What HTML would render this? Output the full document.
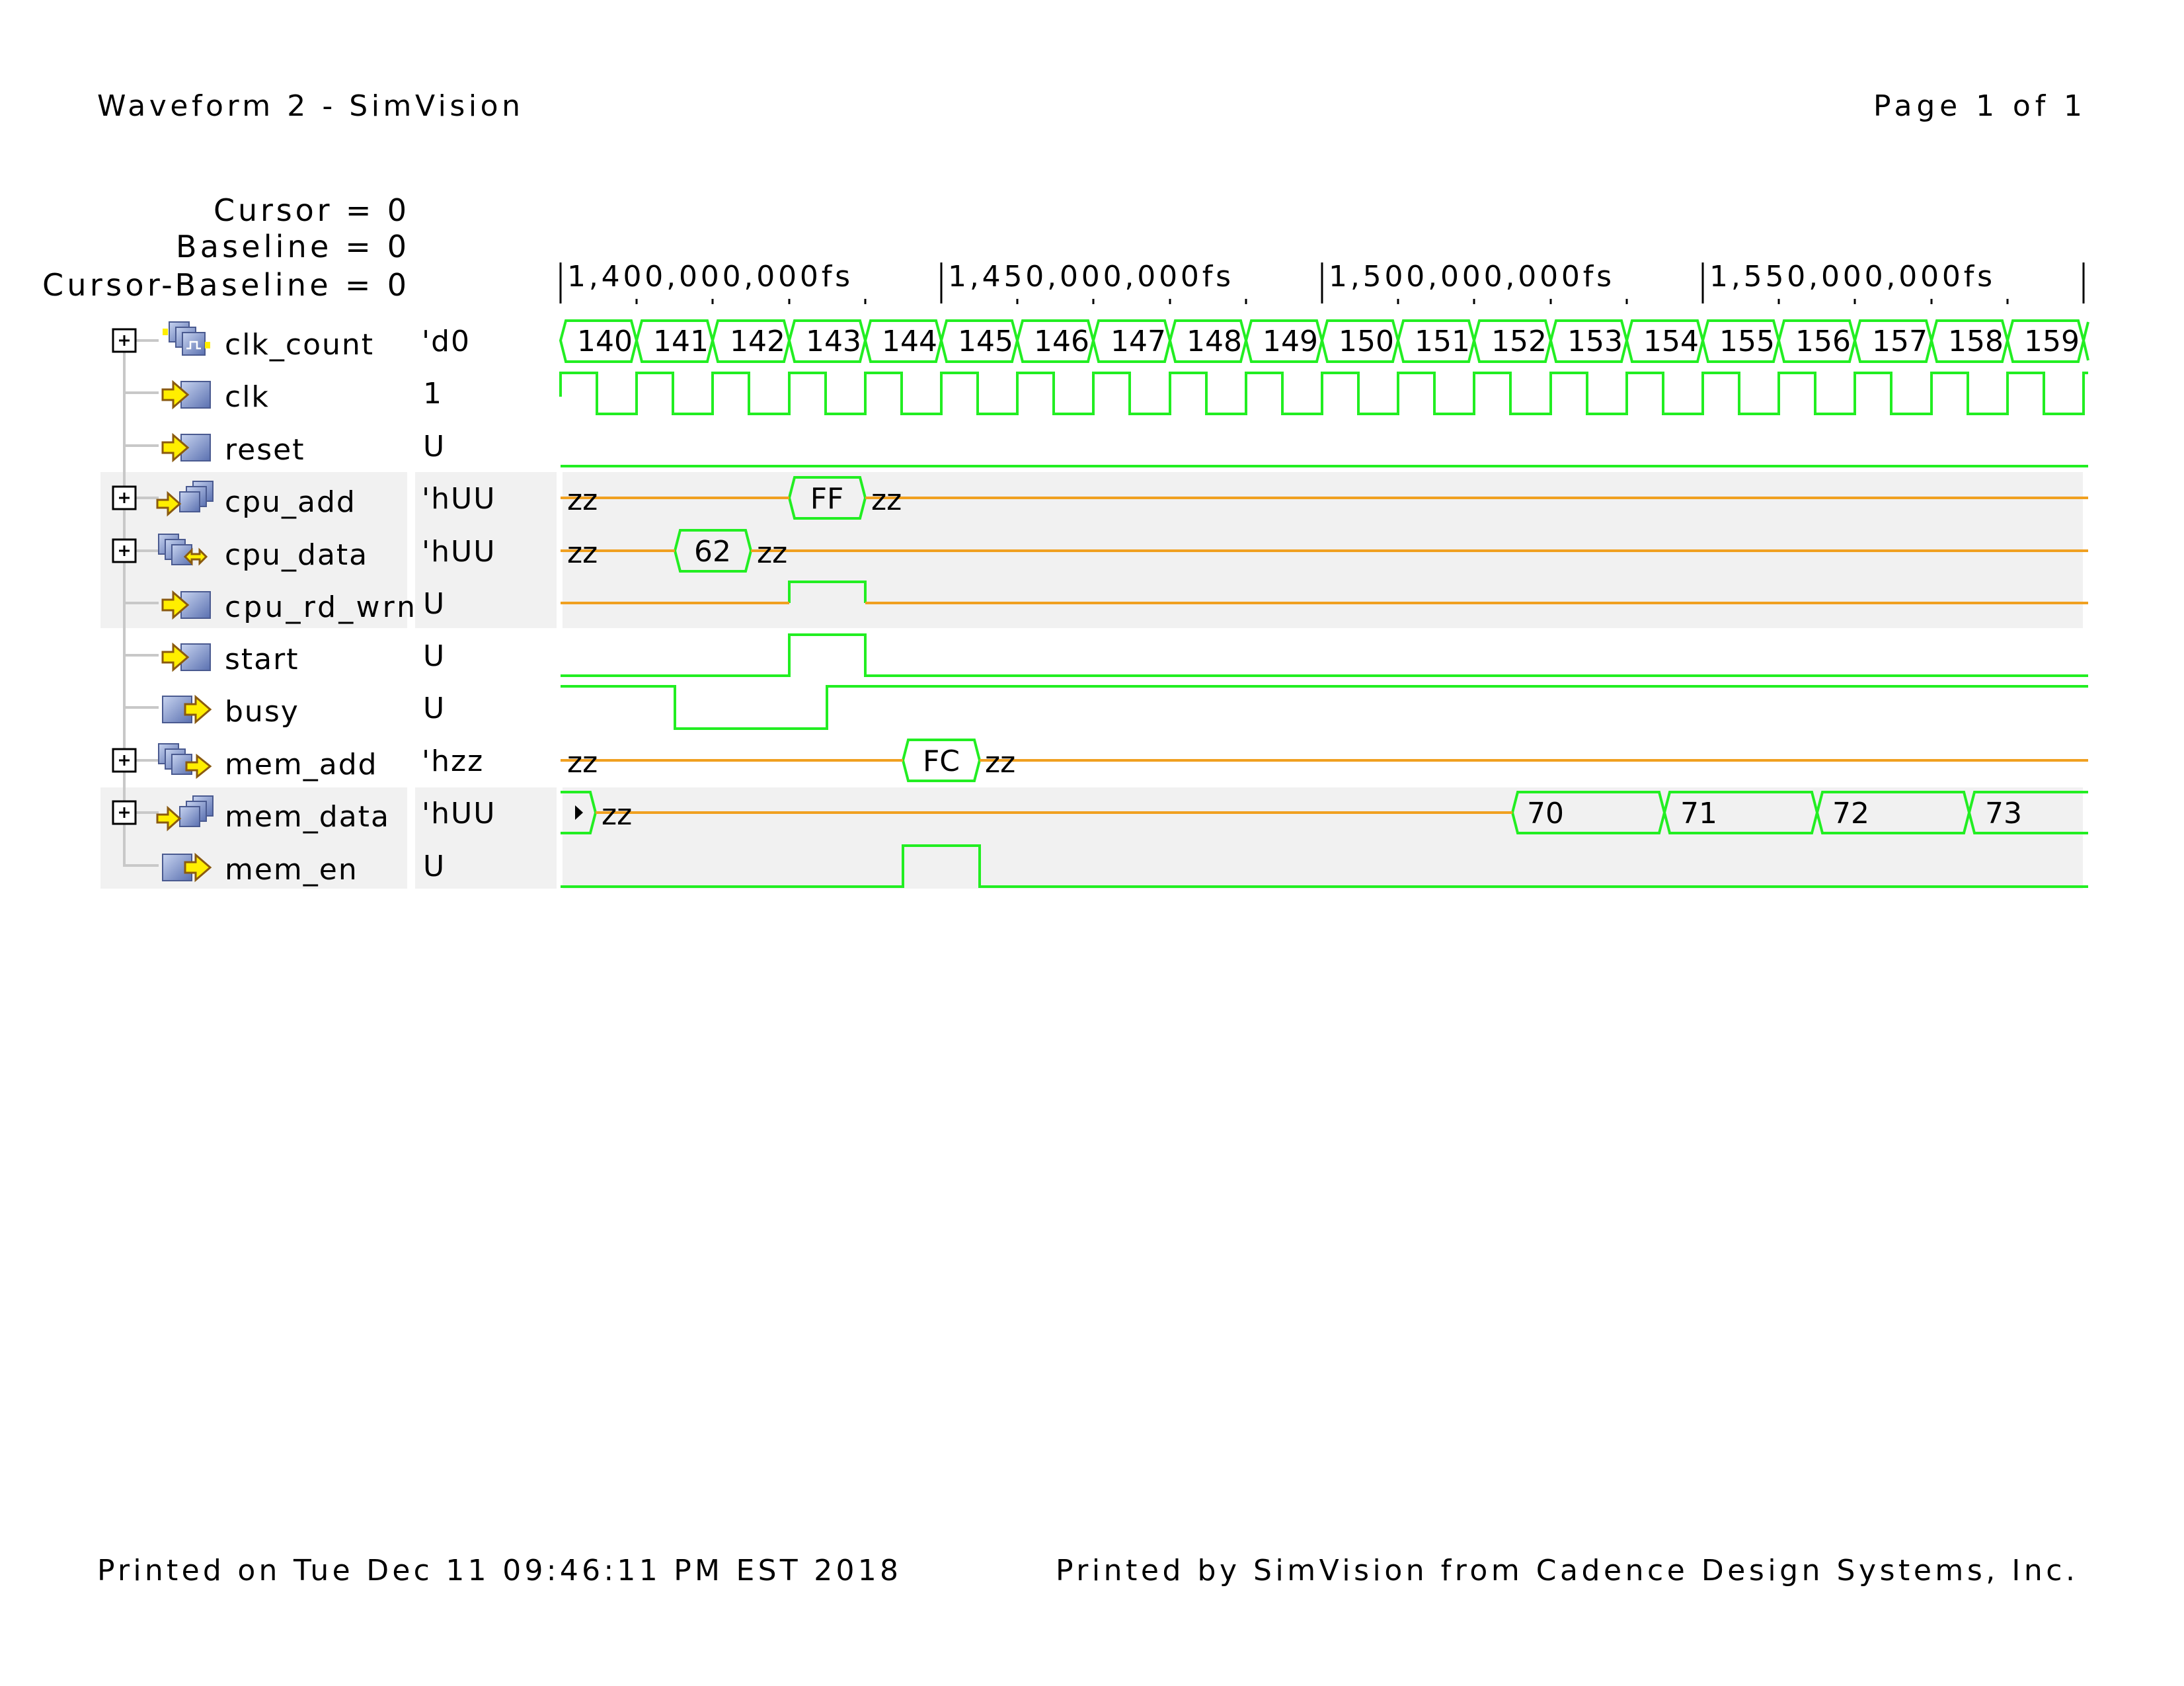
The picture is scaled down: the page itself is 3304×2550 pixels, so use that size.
<!DOCTYPE html>
<html><head><meta charset="utf-8"><style>
html,body{margin:0;padding:0;background:#fff;}
svg{display:block;}
text{font-family:"DejaVu Sans","Liberation Sans",sans-serif;fill:#000;}
</style></head><body>
<svg width="3304" height="2550" viewBox="0 0 3304 2550" xmlns="http://www.w3.org/2000/svg">
<defs>
<linearGradient id="bl" x1="0" y1="0" x2="1" y2="1"><stop offset="0" stop-color="#c8d4f0"/><stop offset="1" stop-color="#5a70b0"/></linearGradient>
<g id="inIcon">
<rect x="274" y="-20" width="44" height="40" fill="url(#bl)" stroke="#4a5a90" stroke-width="2"/>
<polygon points="246,-8 262,-8 262,-19 284,0 262,19 262,8 246,8" fill="#ffee00" stroke="#8a5a10" stroke-width="3"/>
</g>
<g id="outIcon">
<rect x="246" y="-20" width="44" height="40" fill="url(#bl)" stroke="#4a5a90" stroke-width="2"/>
<polygon points="280,-8 296,-8 296,-19 318,0 296,19 296,8 280,8" fill="#ffee00" stroke="#8a5a10" stroke-width="3"/>
</g>
<g id="busIn">
<rect x="292" y="-28" width="30" height="30" fill="url(#bl)" stroke="#4a5a90" stroke-width="2"/>
<rect x="282" y="-20" width="30" height="30" fill="url(#bl)" stroke="#4a5a90" stroke-width="2"/>
<rect x="272" y="-12" width="30" height="30" fill="url(#bl)" stroke="#4a5a90" stroke-width="2"/>
<polygon points="238,0 254,0 254,-10 272,6 254,22 254,12 238,12" fill="#ffee00" stroke="#8a5a10" stroke-width="3"/>
</g>
<g id="busOut">
<rect x="240" y="-28" width="30" height="30" fill="url(#bl)" stroke="#4a5a90" stroke-width="2"/>
<rect x="250" y="-20" width="30" height="30" fill="url(#bl)" stroke="#4a5a90" stroke-width="2"/>
<rect x="260" y="-12" width="30" height="30" fill="url(#bl)" stroke="#4a5a90" stroke-width="2"/>
<polygon points="282,0 298,0 298,-10 318,6 298,22 298,12 282,12" fill="#ffee00" stroke="#8a5a10" stroke-width="3"/>
</g>
<g id="busBi">
<rect x="240" y="-28" width="30" height="30" fill="url(#bl)" stroke="#4a5a90" stroke-width="2"/>
<rect x="250" y="-20" width="30" height="30" fill="url(#bl)" stroke="#4a5a90" stroke-width="2"/>
<rect x="260" y="-12" width="30" height="30" fill="url(#bl)" stroke="#4a5a90" stroke-width="2"/>
<polygon points="280,6 290,-4 290,2 302,2 302,-4 312,6 302,16 302,10 290,10 290,16" fill="#ffee00" stroke="#8a5a10" stroke-width="3"/>
</g>
<g id="busClk">
<rect x="256" y="-28" width="30" height="30" fill="url(#bl)" stroke="#4a5a90" stroke-width="2"/>
<rect x="266" y="-20" width="30" height="30" fill="url(#bl)" stroke="#4a5a90" stroke-width="2"/>
<rect x="276" y="-12" width="34" height="34" fill="url(#bl)" stroke="#4a5a90" stroke-width="2"/>
<path d="M282 12H288V2H298V12H304" stroke="#fff" stroke-width="2.5" fill="none"/>
<rect x="246" y="-18" width="8" height="10" fill="#ffee00"/>
<rect x="310" y="2" width="8" height="10" fill="#ffee00"/>
</g>
<g id="plus">
<rect x="171" y="-17" width="34" height="34" fill="#fff" stroke="#000" stroke-width="3"/>
<path d="M180 0H196M188 -8V8" stroke="#000" stroke-width="3"/>
</g>
</defs>

<!-- header -->
<text x="147" y="175" font-size="44" textLength="640" lengthAdjust="spacing">Waveform 2 - SimVision</text>
<text x="2834" y="175" font-size="44" textLength="316" lengthAdjust="spacing">Page 1 of 1</text>

<text x="323" y="334" font-size="46" textLength="292" lengthAdjust="spacing">Cursor = 0</text>
<text x="266" y="389" font-size="46" textLength="349" lengthAdjust="spacing">Baseline = 0</text>
<text x="64" y="447" font-size="46" textLength="551" lengthAdjust="spacing">Cursor-Baseline = 0</text>

<!-- gray bands -->
<g fill="#f1f1f1">
<rect x="152" y="714" width="464" height="236"/>
<rect x="628" y="714" width="214" height="236"/>
<rect x="851" y="714" width="2300" height="236"/>
<rect x="152" y="1191" width="464" height="153"/>
<rect x="628" y="1191" width="214" height="153"/>
<rect x="851" y="1191" width="2300" height="153"/>
</g>

<!-- time axis -->
<g stroke="#000" stroke-width="3">
<path d="M848 397V459M1424 397V459M2000 397V459M2576 397V459M3152 397V459"/>
<path d="M963 452V460M1078 452V460M1194 452V460M1309 452V460M1539 452V460M1654 452V460M1770 452V460M1885 452V460M2115 452V460M2230 452V460M2346 452V460M2461 452V460M2691 452V460M2806 452V460M2922 452V460M3037 452V460"/>
</g>
<g font-size="44">
<text x="858" y="433" textLength="428" lengthAdjust="spacing">1,400,000,000fs</text>
<text x="1434" y="433" textLength="428" lengthAdjust="spacing">1,450,000,000fs</text>
<text x="2010" y="433" textLength="428" lengthAdjust="spacing">1,500,000,000fs</text>
<text x="2586" y="433" textLength="428" lengthAdjust="spacing">1,550,000,000fs</text>
</g>

<!-- tree -->
<g stroke="#c8c8c8" stroke-width="4" fill="none">
<path d="M188 515V1309H240"/>
<path d="M188 515H240M188 594H240M188 674H240M188 753H240M188 833H240M188 912H240M188 991H240M188 1070H240M188 1150H240M188 1229H240"/>
</g>
<use href="#plus" y="515"/><use href="#plus" y="753"/><use href="#plus" y="833"/><use href="#plus" y="1150"/><use href="#plus" y="1229"/>
<use href="#busClk" y="515"/>
<use href="#inIcon" y="597"/><use href="#inIcon" y="677"/>
<use href="#busIn" y="756"/>
<use href="#busBi" y="836"/>
<use href="#inIcon" y="915"/><use href="#inIcon" y="994"/>
<use href="#outIcon" y="1073"/>
<use href="#busOut" y="1153"/>
<use href="#busIn" y="1232"/>
<use href="#outIcon" y="1312"/>

<g font-size="44" letter-spacing="2">
<text x="340" y="536">clk_count</text>
<text x="340" y="615">clk</text>
<text x="340" y="695">reset</text>
<text x="340" y="774">cpu_add</text>
<text x="340" y="854">cpu_data</text>
<text x="340" y="933" textLength="290" lengthAdjust="spacing">cpu_rd_wrn</text>
<text x="340" y="1012">start</text>
<text x="340" y="1091">busy</text>
<text x="340" y="1171">mem_add</text>
<text x="340" y="1250">mem_data</text>
<text x="340" y="1330">mem_en</text>
</g>
<g font-size="44" letter-spacing="2">
<text x="638" y="531">'d0</text>
<text x="640" y="610">1</text>
<text x="640" y="690">U</text>
<text x="638" y="769">'hUU</text>
<text x="638" y="849">'hUU</text>
<text x="640" y="928">U</text>
<text x="640" y="1007">U</text>
<text x="640" y="1086">U</text>
<text x="638" y="1166">'hzz</text>
<text x="638" y="1245">'hUU</text>
<text x="640" y="1325">U</text>
</g>

<!-- clk_count bus -->
<g fill="none" stroke="#22ee22" stroke-width="4">
<path d="M848 515L856 485H955L963 515L955 547H856Z"/>
<path d="M963 515L971 485H1070L1078 515L1070 547H971Z"/>
<path d="M1078 515L1086 485H1186L1194 515L1186 547H1086Z"/>
<path d="M1194 515L1202 485H1301L1309 515L1301 547H1202Z"/>
<path d="M1309 515L1317 485H1416L1424 515L1416 547H1317Z"/>
<path d="M1424 515L1432 485H1531L1539 515L1531 547H1432Z"/>
<path d="M1539 515L1547 485H1646L1654 515L1646 547H1547Z"/>
<path d="M1654 515L1662 485H1762L1770 515L1762 547H1662Z"/>
<path d="M1770 515L1778 485H1877L1885 515L1877 547H1778Z"/>
<path d="M1885 515L1893 485H1992L2000 515L1992 547H1893Z"/>
<path d="M2000 515L2008 485H2107L2115 515L2107 547H2008Z"/>
<path d="M2115 515L2123 485H2222L2230 515L2222 547H2123Z"/>
<path d="M2230 515L2238 485H2338L2346 515L2338 547H2238Z"/>
<path d="M2346 515L2354 485H2453L2461 515L2453 547H2354Z"/>
<path d="M2461 515L2469 485H2568L2576 515L2568 547H2469Z"/>
<path d="M2576 515L2584 485H2683L2691 515L2683 547H2584Z"/>
<path d="M2691 515L2699 485H2798L2806 515L2798 547H2699Z"/>
<path d="M2806 515L2814 485H2914L2922 515L2914 547H2814Z"/>
<path d="M2922 515L2930 485H3029L3037 515L3029 547H2930Z"/>
<path d="M3037 515L3045 485H3144L3152 515L3144 547H3045Z"/>
<path d="M3159 487L3152 515L3159 545"/>
</g>
<g font-size="44" text-anchor="middle">
<text x="915" y="531">140</text><text x="1030" y="531">141</text><text x="1146" y="531">142</text><text x="1261" y="531">143</text><text x="1376" y="531">144</text>
<text x="1491" y="531">145</text><text x="1606" y="531">146</text><text x="1722" y="531">147</text><text x="1837" y="531">148</text><text x="1952" y="531">149</text>
<text x="2067" y="531">150</text><text x="2182" y="531">151</text><text x="2298" y="531">152</text><text x="2413" y="531">153</text><text x="2528" y="531">154</text>
<text x="2643" y="531">155</text><text x="2758" y="531">156</text><text x="2874" y="531">157</text><text x="2989" y="531">158</text><text x="3104" y="531">159</text>
</g>

<!-- green bit signals -->
<g fill="none" stroke="#22ee22" stroke-width="4">
<path d="M848 600V564H903V626H963V564H1018V626H1078V564H1133V626H1194V564H1249V626H1309V564H1364V626H1424V564H1479V626H1539V564H1594V626H1654V564H1709V626H1770V564H1825V626H1885V564H1940V626H2000V564H2055V626H2115V564H2170V626H2230V564H2285V626H2346V564H2401V626H2461V564H2516V626H2576V564H2631V626H2691V564H2746V626H2806V564H2861V626H2922V564H2977V626H3037V564H3092V626H3152V564H3159"/>
<path d="M848 705H3159"/>
<path d="M1194 912V880H1309V912"/>
<path d="M848 1022H1194V960H1309V1022H3159"/>
<path d="M848 1038H1021V1102H1251V1038H3159"/>
<path d="M848 1341H1366V1279H1482V1341H3159"/>
<path d="M1194 753L1202 722H1301L1309 753L1301 784H1202Z"/>
<path d="M1021 833L1029 802H1128L1136 833L1128 864H1029Z"/>
<path d="M1366 1150L1374 1119H1474L1482 1150L1474 1181H1374Z"/>
<path d="M848 1198H893L901 1229L893 1260H848"/>
<path d="M2288 1229L2296 1198H2510L2518 1229L2510 1260H2296Z"/>
<path d="M2518 1229L2526 1198H2741L2749 1229L2741 1260H2526Z"/>
<path d="M2749 1229L2757 1198H2971L2979 1229L2971 1260H2757Z"/>
<path d="M2979 1229L2987 1198H3159M3159 1260H2987L2979 1229"/>
</g>
<g fill="none" stroke="#f0a020" stroke-width="4">
<path d="M848 753H1194M1309 753H3159"/>
<path d="M848 833H1021M1136 833H3159"/>
<path d="M848 912H1194M1309 912H3159"/>
<path d="M848 1150H1366M1482 1150H3159"/>
<path d="M901 1229H2288"/>
</g>
<polygon points="870,1218 870,1240 882,1229" fill="#000"/>
<g font-size="44">
<text x="858" y="771">zz</text>
<text x="1318" y="771">zz</text>
<text x="858" y="851">zz</text>
<text x="1145" y="851">zz</text>
<text x="858" y="1168">zz</text>
<text x="1490" y="1168">zz</text>
<text x="910" y="1247">zz</text>
</g>
<g font-size="44" text-anchor="middle">
<text x="1251" y="769">FF</text>
<text x="1078" y="849">62</text>
<text x="1424" y="1166">FC</text>
</g>
<g font-size="44">
<text x="2310" y="1245">70</text>
<text x="2542" y="1245">71</text>
<text x="2772" y="1245">72</text>
<text x="3003" y="1245">73</text>
</g>

<text x="147" y="2390" font-size="44" textLength="1212" lengthAdjust="spacing">Printed on Tue Dec 11 09:46:11 PM EST 2018</text>
<text x="1597" y="2390" font-size="44" textLength="1542" lengthAdjust="spacing">Printed by SimVision from Cadence Design Systems, Inc.</text>
</svg>
</body></html>
